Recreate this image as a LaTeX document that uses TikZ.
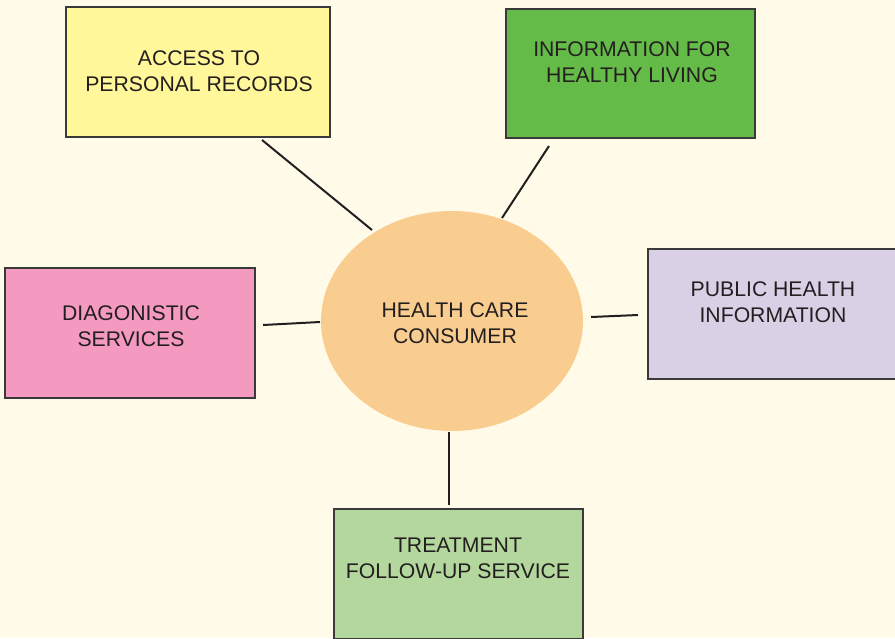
\documentclass[tikz,border=0pt]{standalone}
\usepackage{fontspec}
\setmainfont{Liberation Sans}
\usetikzlibrary{shapes.geometric}
\definecolor{bgc}{HTML}{FFFBE8}
\definecolor{cyel}{HTML}{FFF799}
\definecolor{cgrn}{HTML}{65BB47}
\definecolor{cpnk}{HTML}{F49AC1}
\definecolor{clav}{HTML}{D9D0E6}
\definecolor{clgr}{HTML}{B3D79C}
\definecolor{corg}{HTML}{F9CD90}
\definecolor{ctxt}{HTML}{231F20}
\definecolor{cbrd}{HTML}{3A3A3A}
\tikzset{
  boxnode/.style={draw=cbrd, line width=1.2pt, rectangle, inner sep=0pt, minimum width=#1},
  lbl/.style={align=center, text=ctxt, font=\fontsize{21.2}{26}\selectfont, inner sep=0pt},
  conn/.style={draw=ctxt, line width=2pt}
}
\begin{document}
\begin{tikzpicture}[x=1pt,y=-1pt]
\fill[bgc] (0,0) rectangle (895,638);
\useasboundingbox (0,0) rectangle (895,638);
% boxes
\node[boxnode=264pt, minimum height=130pt, fill=cyel] (acc) at (198,72) {};
\node[boxnode=249pt, minimum height=129pt, fill=cgrn] (info) at (630.5,73.5) {};
\node[boxnode=250pt, minimum height=130pt, fill=cpnk] (diag) at (130,333) {};
\node[boxnode=249pt, minimum height=130pt, fill=clav] (pub) at (772.5,314) {};
\node[boxnode=249pt, minimum height=130pt, fill=clgr] (treat) at (458.5,574) {};
\node[ellipse, fill=corg, minimum width=262pt, minimum height=220pt, inner sep=0pt] (hc) at (452,321) {};
% labels
\node[lbl] (accl) at (199,71) {ACCESS TO\\PERSONAL RECORDS};
\node[lbl] (infol) at (632,62) {INFORMATION FOR\\HEALTHY LIVING};
\node[lbl] (diagl) at (131,326) {DIAGONISTIC\\SERVICES};
\node[lbl] (publ) at (773,302) {PUBLIC HEALTH\\INFORMATION};
\node[lbl] (treatl) at (458,558) {TREATMENT\\FOLLOW-UP SERVICE};
\node[lbl] (hcl) at (455,323) {HEALTH CARE\\CONSUMER};
% connector ends
\coordinate (a1) at (262,140); \coordinate (a2) at (372,230);
\coordinate (b1) at (549,146); \coordinate (b2) at (502,218);
\coordinate (c1) at (263,325); \coordinate (c2) at (320,322);
\coordinate (d1) at (591,317); \coordinate (d2) at (638,315);
\coordinate (e1) at (449,432); \coordinate (e2) at (449,505);
\draw[conn] (a1) -- (a2);
\draw[conn] (b1) -- (b2);
\draw[conn] (c1) -- (c2);
\draw[conn] (d1) -- (d2);
\draw[conn] (e1) -- (e2);
\end{tikzpicture}
\end{document}
